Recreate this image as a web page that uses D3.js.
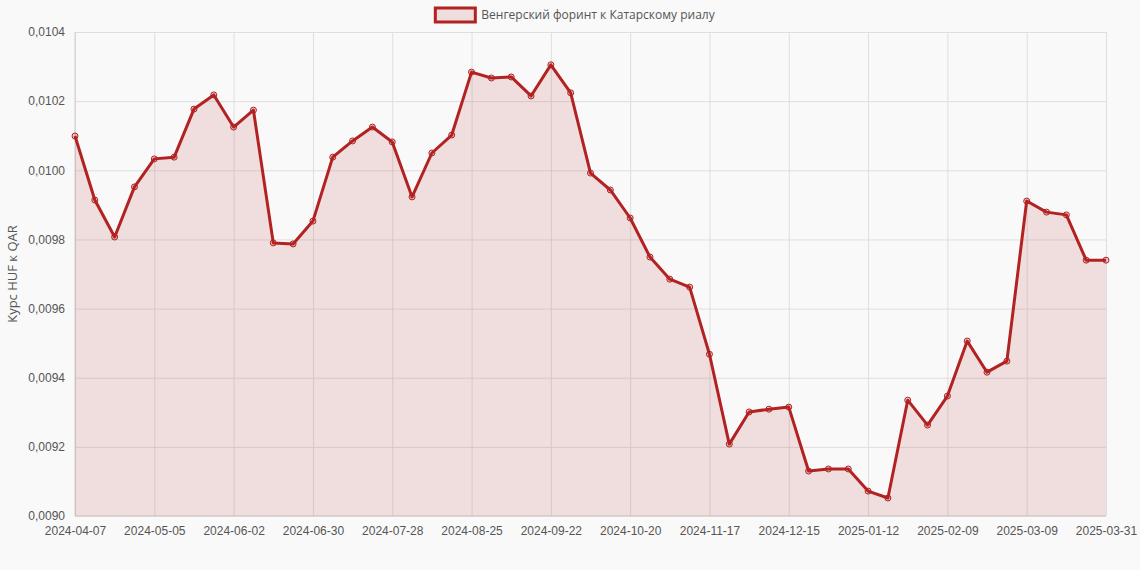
<!DOCTYPE html>
<html>
<head>
<meta charset="utf-8">
<script src="https://cdn.jsdelivr.net/npm/d3@7"></script>
<style>
  body { margin: 0; background: #f9f9f9; font-family: "Open Sans", "DejaVu Sans", sans-serif; }
  .axis text { font-size: 12px; fill: #555; }
  .axis path, .axis line { stroke: none; }
  .grid line { stroke: #dedede; }
  .grid path { stroke: none; }
</style>
</head>
<body>
<div id="chart"></div>
<script>
// Даты (категории, еженедельно)
const dates = [
  "2024-04-07","2024-04-14","2024-04-21","2024-04-28","2024-05-05","2024-05-12","2024-05-19","2024-05-26",
  "2024-06-02","2024-06-09","2024-06-16","2024-06-23","2024-06-30","2024-07-07","2024-07-14","2024-07-21",
  "2024-07-28","2024-08-04","2024-08-11","2024-08-18","2024-08-25","2024-09-01","2024-09-08","2024-09-15",
  "2024-09-22","2024-09-29","2024-10-06","2024-10-13","2024-10-20","2024-10-27","2024-11-03","2024-11-10",
  "2024-11-17","2024-11-24","2024-12-01","2024-12-08","2024-12-15","2024-12-22","2024-12-29","2025-01-05",
  "2025-01-12","2025-01-19","2025-01-26","2025-02-02","2025-02-09","2025-02-16","2025-02-23","2025-03-02",
  "2025-03-09","2025-03-16","2025-03-23","2025-03-30","2025-03-31"
];
// Курс HUF к QAR
const rates = [
  0.010099,0.009914,0.009807,0.009952,0.010033,0.010038,0.010177,0.010218,
  0.010125,0.010174,0.009790,0.009787,0.009853,0.010038,0.010085,0.010125,
  0.010082,0.009923,0.010050,0.010102,0.010284,0.010267,0.010270,0.010215,
  0.010305,0.010224,0.009992,0.009943,0.009862,0.009749,0.009685,0.009662,
  0.009468,0.009208,0.009301,0.009309,0.009315,0.009130,0.009136,0.009136,
  0.009072,0.009052,0.009335,0.009263,0.009347,0.009506,0.009416,0.009448,
  0.009911,0.009879,0.009871,0.009740,0.009740
];
const yTicks = [0.0090, 0.0092, 0.0094, 0.0096, 0.0098, 0.0100, 0.0102, 0.0104];
const seriesName = "Венгерский форинт к Катарскому риалу";

const W = 1140, H = 570;
const margin = { top: 32, right: 34, bottom: 54, left: 75 };
const width = W - margin.left - margin.right;
const height = H - margin.top - margin.bottom;
const color = "#b22222";

const svg = d3.select("#chart").append("svg")
  .attr("width", W).attr("height", H);
const g = svg.append("g").attr("transform", `translate(${margin.left},${margin.top})`);

const x = d3.scalePoint().domain(dates).range([0, width]);
const y = d3.scaleLinear().domain([0.0090, 0.0104]).range([height, 0]);
const fmt = d => d3.format(".4f")(d).replace(".", ",");
const xLabels = dates.filter((d, i) => i % 4 === 0 || i === dates.length - 1);

// Сетка
g.append("g").attr("class", "grid")
  .call(d3.axisLeft(y).tickValues(yTicks).tickSize(-width).tickFormat(""));
g.append("g").attr("class", "grid")
  .call(d3.axisBottom(x).tickValues(xLabels).tickSize(height).tickFormat(""));
g.append("line").attr("x1", 0).attr("x2", 0).attr("y1", 0).attr("y2", height).attr("stroke", "#cfcfcf");
g.append("line").attr("x1", 0).attr("x2", width).attr("y1", height).attr("y2", height).attr("stroke", "#cfcfcf");

// Оси
g.append("g").attr("class", "axis")
  .call(d3.axisLeft(y).tickValues(yTicks).tickFormat(fmt).tickSize(0).tickPadding(10));
g.append("g").attr("class", "axis")
  .attr("transform", `translate(0,${height})`)
  .call(d3.axisBottom(x).tickValues(xLabels).tickSize(0).tickPadding(10));

svg.append("text")
  .attr("transform", `translate(17,${margin.top + height / 2}) rotate(-90)`)
  .attr("text-anchor", "middle").attr("font-size", 13).attr("fill", "#555")
  .text("Курс HUF к QAR");

// Область и линия
g.append("path").datum(rates)
  .attr("fill", "rgba(178,34,34,0.12)")
  .attr("d", d3.area().x((d, i) => x(dates[i])).y0(height).y1(d => y(d)));
g.append("path").datum(rates)
  .attr("fill", "none").attr("stroke", color).attr("stroke-width", 3)
  .attr("stroke-linejoin", "round")
  .attr("d", d3.line().x((d, i) => x(dates[i])).y(d => y(d)));
g.selectAll(".pt").data(rates).enter().append("circle")
  .attr("cx", (d, i) => x(dates[i])).attr("cy", d => y(d)).attr("r", 3)
  .attr("fill", "rgba(178,34,34,0.2)").attr("stroke", color).attr("stroke-width", 1);

// Легенда
const leg = svg.append("g").attr("transform", `translate(${W / 2 + 28},15)`);
const lt = leg.append("text").attr("x", 0).attr("y", 4).attr("font-size", 12)
  .attr("fill", "#555").attr("text-anchor", "middle").text(seriesName);
const tw = lt.node().getComputedTextLength();
leg.append("rect").attr("x", -tw / 2 - 46).attr("y", -7).attr("width", 40).attr("height", 14)
  .attr("fill", "rgba(178,34,34,0.12)").attr("stroke", color).attr("stroke-width", 3);
</script>
</body>
</html>
